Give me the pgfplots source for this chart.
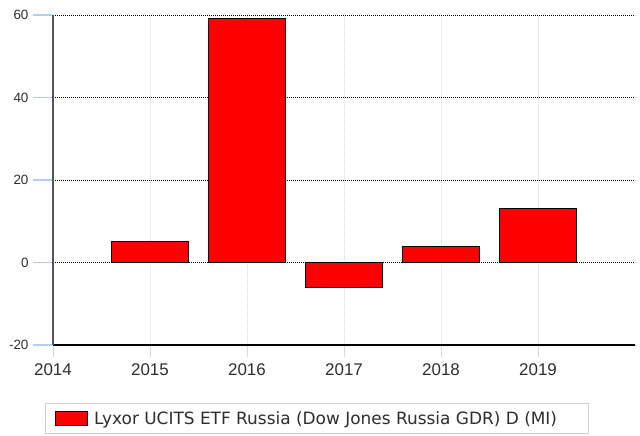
\documentclass[border=0pt]{standalone}
\usepackage{fontspec}
\setmainfont{DejaVu Sans}
\newfontfamily\ticksfont{Liberation Sans}
\usepackage{pgfplots}
\pgfplotsset{compat=1.18}
\definecolor{gridblue}{HTML}{C8DAF2}
\definecolor{tickblue}{HTML}{B4CCEE}
\definecolor{txt}{HTML}{2E2E2E}
\definecolor{axgray}{HTML}{555555}
\definecolor{legbox}{HTML}{D0D0D0}
\begin{document}
\begin{tikzpicture}[x=1bp,y=1bp]
\useasboundingbox (0,0) rectangle (640,436);
\begin{axis}[
  at={(53bp,91bp)}, anchor=south west,
  scale only axis, width=582bp, height=330bp,
  xmin=2014, xmax=2020, ymin=-20, ymax=60,
  clip=false,
  axis x line=bottom, axis y line=left,
  axis line style={-},
  x axis line style={black, line width=1.2bp},
  y axis line style={axgray, line width=1.2bp},
  xtick={2014,2015,2016,2017,2018,2019},
  ytick={-20,0,20,40,60},
  /pgf/number format/assume math mode=true,
  /pgf/number format/set thousands separator={},
  xticklabel style={font=\ticksfont\fontsize{17}{19}\selectfont, text=txt, yshift=-15bp},
  yticklabel style={font=\ticksfont\fontsize{13.5}{15}\selectfont, text=txt, xshift=-21bp},
  tick align=inside,
  major tick length=20bp,
  xtick style={gridblue, line width=1bp, yshift=-12bp, dash pattern=on 12bp off 200bp},
  ytick style={draw=none},
  grid=major,
  x grid style={gridblue, line width=0.8bp, dash pattern=on 1bp off 1bp},
  y grid style={black, line width=0.8bp, dash pattern=on 1bp off 1bp},
  legend style={at={(rel axis cs:-0.0137,-0.1758)}, anchor=north west,
    draw=legbox, line width=0.8bp, inner xsep=10bp, inner ysep=6bp,
    font=\fontsize{17}{20}\selectfont, text=txt},
  legend cell align=left,
  legend image code/.code={\draw[fill=red, draw=black, line width=0.8bp] (0bp,-7bp) rectangle (32bp,7bp);},
]
\pgfplotsinvokeforeach{0,0.25,0.5,0.75,1}{%
  \draw[tickblue, line width=1.5bp] ([xshift=-20bp]rel axis cs:0,#1) -- ([xshift=-0.6bp]rel axis cs:0,#1);}
\addplot[ybar, bar width=0.8, fill=red, draw=black, line width=1.2bp]
  coordinates {(2015,5.1) (2016,59.1) (2017,-6.0) (2018,3.9) (2019,13.1)};
\addlegendentry{\hspace{4bp}\makebox[482bp][l]{Lyxor UCITS ETF Russia (Dow Jones Russia GDR) D (MI)}}
\end{axis}
\end{tikzpicture}
\end{document}
